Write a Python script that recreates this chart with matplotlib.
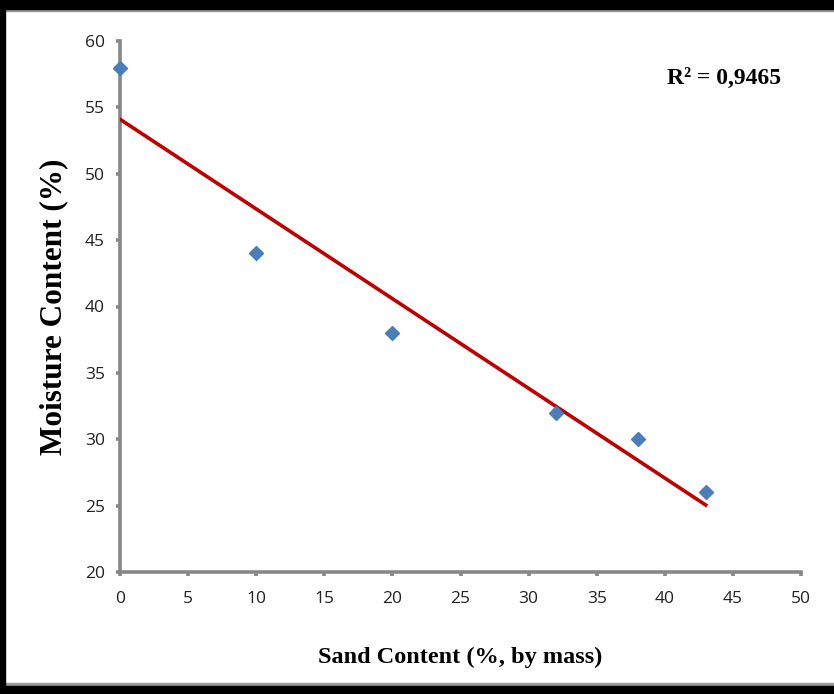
import numpy as np
import matplotlib.pyplot as plt
from matplotlib.patches import Rectangle

# Data
sand = [0, 10, 20, 32, 38, 43]
moisture = [58, 44, 38, 32, 30, 26]
x_ticks = [0, 5, 10, 15, 20, 25, 30, 35, 40, 45, 50]
y_ticks = [20, 25, 30, 35, 40, 45, 50, 55, 60]
r2_label = 'R² = 0,9465'

tick_font = ['Open Sans', 'DejaVu Sans']
serif_font = ['Liberation Serif', 'DejaVu Serif']
grey = '#878787'

fig = plt.figure(figsize=(8.34, 6.94), dpi=100)
ax = fig.add_axes([120 / 834, 122 / 694, 681 / 834, 531 / 694])

# Linear trend line
slope, intercept = np.polyfit(sand, moisture, 1)
xs = np.array([min(sand), max(sand)])
ax.plot(xs, slope * xs + intercept, color='#c00000', lw=2.6, zorder=3)

ax.plot(sand, moisture, linestyle='none', marker='D', ms=7.6, color='#4a7ebb',
        clip_on=False, zorder=4)

ax.set_xlim(0, 50)
ax.set_ylim(20, 60)
ax.set_xticks(x_ticks)
ax.set_yticks(y_ticks)

for side in ['top', 'right']:
    ax.spines[side].set_visible(False)
for side in ['left', 'bottom']:
    ax.spines[side].set_color(grey)
    ax.spines[side].set_linewidth(2.6)

ax.tick_params(axis='both', direction='out', length=3, width=2.6, color=grey,
               labelcolor='#222222')
ax.tick_params(axis='x', pad=11)
ax.tick_params(axis='y', pad=8)
for lab in ax.get_xticklabels() + ax.get_yticklabels():
    lab.set_family(tick_font)
    lab.set_fontsize(12.5)

ax.set_xlabel('Sand Content (%, by mass)', family=serif_font, fontweight='bold',
              fontsize=17.5, labelpad=28)
ax.set_ylabel('Moisture Content (%)', family=serif_font, fontweight='bold',
              fontsize=22.5, labelpad=12)

ax.text(667 / 834, 1 - 84 / 694, r2_label, transform=fig.transFigure,
        family=serif_font, fontweight='bold', fontsize=17, ha='left', va='baseline')

# Frame around the picture
fig.patches.append(Rectangle((0, 1 - 9 / 694), 1, 9 / 694, transform=fig.transFigure,
                             color='black', zorder=10))
fig.patches.append(Rectangle((0, 1 - 11 / 694), 1, 2 / 694, transform=fig.transFigure,
                             color='#9a9a9a', zorder=9))
fig.patches.append(Rectangle((0, 0), 5 / 834, 1, transform=fig.transFigure,
                             color='black', zorder=10))
fig.patches.append(Rectangle((0, 0), 1, 8 / 694, transform=fig.transFigure,
                             color='black', zorder=10))
fig.patches.append(Rectangle((0, 8 / 694), 1, 3 / 694, transform=fig.transFigure,
                             color='#9a9a9a', zorder=9))

fig.savefig('out.png', dpi=100)
